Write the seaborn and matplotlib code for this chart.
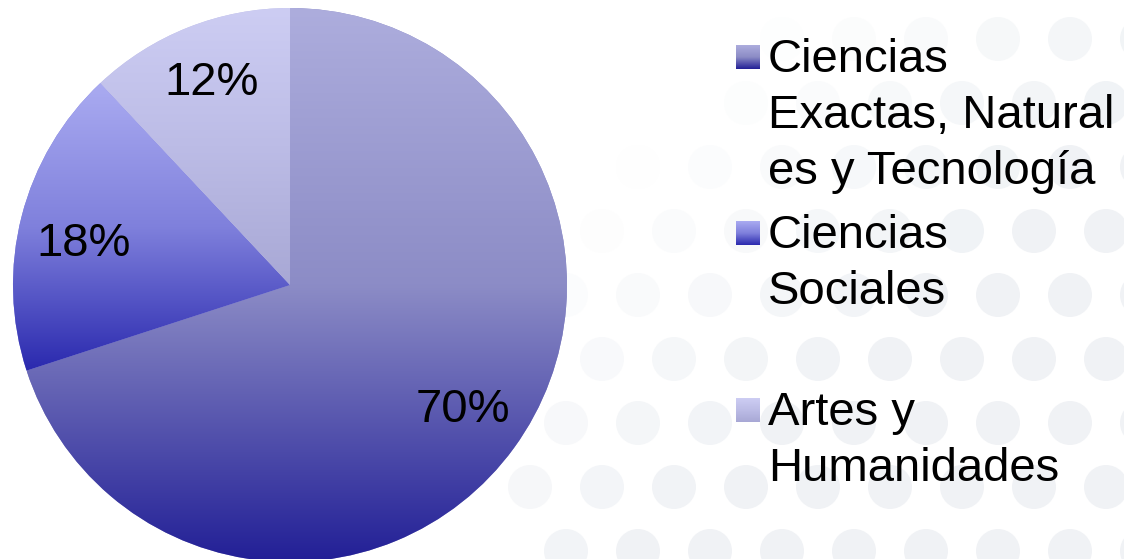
import numpy as np
import matplotlib
matplotlib.use("Agg")
import matplotlib.pyplot as plt
import seaborn as sns
from matplotlib.patches import Circle

# ---- data ----
categories = ["Ciencias Exactas, Naturales y Tecnología", "Ciencias Sociales", "Artes y Humanidades"]
legend_labels = ["Ciencias\nExactas, Natural\nes y Tecnología", "Ciencias\nSociales", "Artes y\nHumanidades"]
values = [70, 18, 12]
gradients = [
    ["#ADADDD", "#8C8CC6", "#221F96"],
    ["#AAABF1", "#7F80DC", "#2A29AE"],
    ["#CDCDF3", "#BCBCE6", "#A8A8D5"],
]

sns.set_theme(style="white")
plt.rcParams['font.family'] = ['Liberation Sans', 'DejaVu Sans']

W, H = 1124, 559
fig = plt.figure(figsize=(W / 100, H / 100), dpi=100)
fig.patch.set_facecolor('white')

# background / overlay axes in pixel coordinates
bg = fig.add_axes([0, 0, 1, 1])
bg.set_xlim(0, W)
bg.set_ylim(H, 0)
bg.axis('off')

# decorative faint dot pattern (background artwork)
dot_col = np.array([0.94, 0.95, 0.962])
for j, yy in enumerate(np.arange(-25, H + 60, 64)):
    off = 36 if j % 2 else 0
    for xx in np.arange(530 + off, W + 60, 72):
        t = np.clip((xx - 650) / 450 + (yy - 120) / 420, 0, 1)
        if t <= 0.08:
            continue
        col = 1 - (1 - dot_col) * t
        bg.add_patch(Circle((xx, yy), 22, facecolor=col, edgecolor='none', zorder=0))

# pie axes
cx, cy, R = 290, 285, 277
ax = fig.add_axes([(cx - R) / W, (H - cy - R) / H, 2 * R / W, 2 * R / H])
wedges, texts, autotexts = ax.pie(
    values, startangle=90, counterclock=False, radius=1,
    autopct='%.0f%%', pctdistance=0.77,
    colors=[g[1] for g in gradients],
    wedgeprops=dict(linewidth=0),
    textprops=dict(fontsize=34, color='black'))

grad = np.linspace(0, 1, 256).reshape(-1, 1)
for w, g in zip(wedges, gradients):
    cmap = sns.blend_palette(g, as_cmap=True)
    ext = w.get_path().get_extents()
    im = ax.imshow(grad, cmap=cmap, extent=(ext.x0, ext.x1, ext.y0, ext.y1),
                   origin='upper', aspect='auto', zorder=1.5, interpolation='bilinear')
    im.set_clip_path(w)
for t in autotexts:
    t.set_zorder(5)
# small nudges of the percentage labels to match reference placement
nudges = [(0.0, 0.0), (0.0, -0.045), (0.0, 0.015)]
for t, (dx, dy) in zip(autotexts, nudges):
    x, y = t.get_position()
    t.set_position((x + dx, y + dy))

ax.set_xlim(-1, 1)
ax.set_ylim(-1, 1)
ax.set_aspect('auto')
ax.axis('off')
ax.patch.set_alpha(0)

# legend (manual, with gradient swatches)
sq_x0, sq = 736, 24
entry_y = [57, 233, 410]
for lab, g, ey in zip(legend_labels, gradients, entry_y):
    cmap = sns.blend_palette(g, as_cmap=True)
    bg.imshow(grad, cmap=cmap, extent=(sq_x0, sq_x0 + sq, ey + sq / 2, ey - sq / 2),
              origin='upper', aspect='auto', zorder=3, interpolation='bilinear')
    bg.text(768, ey - 19, lab, ha='left', va='top', fontsize=34, color='black',
            linespacing=1.35, zorder=4)
bg.set_xlim(0, W)
bg.set_ylim(H, 0)

fig.savefig('out.png', dpi=100, facecolor='white')
